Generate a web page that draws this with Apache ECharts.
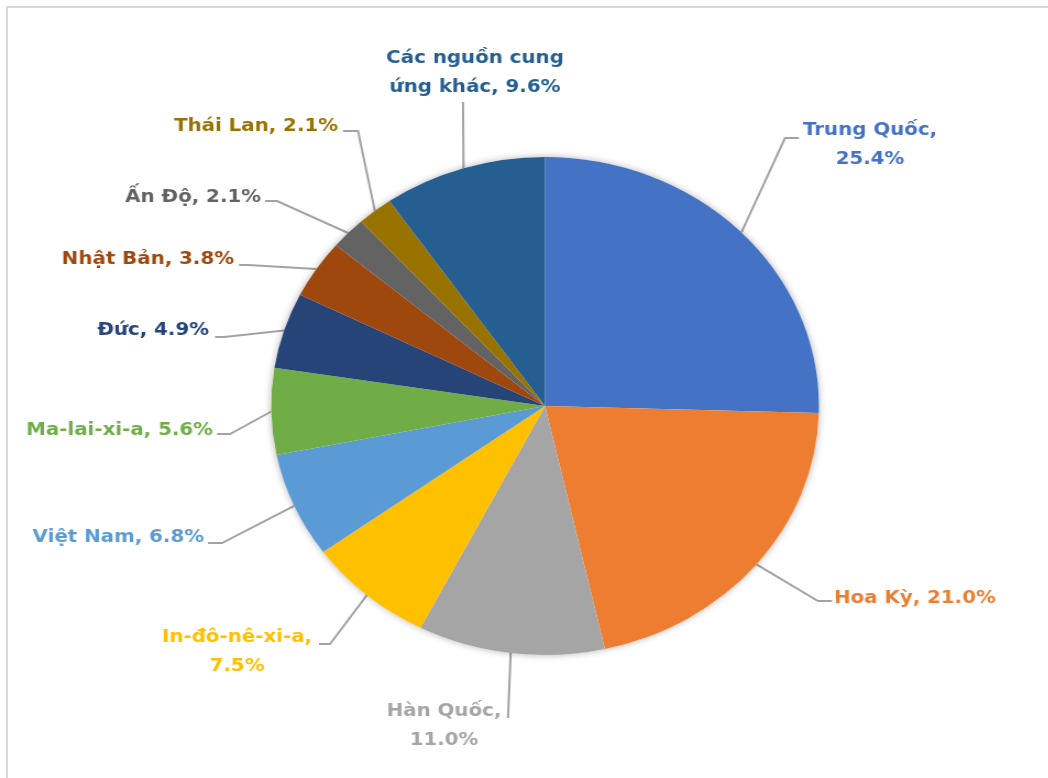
<!DOCTYPE html>
<html>
<head>
<meta charset="utf-8">
<script src="https://cdn.jsdelivr.net/npm/echarts@6/dist/echarts.min.js"></script>
<style>
  html, body { margin: 0; padding: 0; background: #fff; width: 1048px; height: 778px; overflow: hidden; }
  #frame { position: absolute; left: 6px; top: 6px; right: -4px; bottom: -4px;
           border-top: 2px solid #d9d9d9; border-left: 2px solid #d9d9d9; }
  /* the chart is laid out on a narrower canvas and widened to the page */
  #chart { position: absolute; left: 0; top: 0; width: 953px; height: 778px;
           transform: scaleX(1.1); transform-origin: 0 0; }
</style>
</head>
<body>
<div id="frame"></div>
<div id="chart"></div>
<script>
// Import sources, share of total (%)
const categories = ['Trung Quốc', 'Hoa Kỳ', 'Hàn Quốc', 'In-đô-nê-xi-a', 'Việt Nam',
                    'Ma-lai-xi-a', 'Đức', 'Nhật Bản', 'Ấn Độ', 'Thái Lan', 'Các nguồn cung ứng khác'];
const shares = [25.4, 21.0, 11.0, 7.5, 6.8, 5.6, 4.9, 3.8, 2.1, 2.1, 9.6];

// Slice colours (Office palette)
const colors = ['#4472C4', '#ED7D31', '#A5A5A5', '#FFC000', '#5B9BD5', '#70AD47',
                '#264478', '#9E480E', '#636363', '#997300', '#255E91'];

// Which space of each label becomes a line break (0 = single line)
const breakAtSpace = [2, 0, 2, 1, 0, 0, 0, 0, 0, 0, 3];

// Label placement on the page: [x, y, align]
const labelSpots = [
  [870, 145, 'center'], [834, 598, 'left'], [444, 726, 'center'], [237, 652, 'center'],
  [204, 537, 'right'], [213, 430, 'right'], [209, 330, 'right'], [234, 259, 'right'],
  [261, 197, 'right'], [338, 126, 'right'], [475, 73, 'center']
];
// Leader line bend and end on the page: [bendX, bendY, endX, endY]
const leaderBends = [
  [785, 138, 799, 138], [818, 601, 832, 601], [508, 718, 508, 718], [330, 644, 319, 644],
  [222, 543, 208, 543], [230, 434, 217, 434], [224, 337, 215, 337], [248, 265, 239, 265],
  [277, 201, 265, 201], [358, 131, 343, 131], [463, 102, 463, 102]
];

const STRETCH = 1.1;          // horizontal widening applied to #chart
const CENTER = [495.5, 406];
const RADIUS = 249;
const FONT = '"DejaVu Sans", "Noto Sans", sans-serif';

function labelText(i) {
  const full = categories[i] + ', ' + shares[i].toFixed(1) + '%';
  const n = breakAtSpace[i];
  if (!n) return full;
  let count = 0;
  return full.replace(/ /g, function (m) { count++; return count === n ? '\n' : m; });
}

const pieData = categories.map(function (name, i) {
  return {
    name: name,
    value: shares[i],
    itemStyle: { color: colors[i] },
    label: { color: colors[i] }
  };
});

const chart = echarts.init(document.getElementById('chart'), null, { renderer: 'canvas' });
chart.setOption({
  backgroundColor: 'transparent',
  animation: false,
  series: [
    {
      // soft drop shadow under the pie
      type: 'pie',
      silent: true,
      center: CENTER,
      radius: RADIUS,
      data: [{ value: 1, itemStyle: { color: '#ffffff' } }],
      label: { show: false },
      labelLine: { show: false },
      itemStyle: { shadowBlur: 7, shadowColor: 'rgba(0,0,0,0.3)' }
    },
    {
      type: 'pie',
      center: CENTER,
      radius: RADIUS,
      startAngle: 90,
      clockwise: true,
      avoidLabelOverlap: false,
      data: pieData,
      itemStyle: { borderWidth: 0 },
      label: {
        show: true,
        position: 'outside',
        fontFamily: FONT,
        fontWeight: 'bold',
        fontSize: 18,
        lineHeight: 29,
        formatter: function (p) { return labelText(p.dataIndex); }
      },
      labelLine: {
        show: true,
        length: 20,
        length2: 10,
        lineStyle: { color: '#a3a3a3', width: 2 }
      },
      labelLayout: function (p) {
        const i = p.dataIndex;
        const spot = labelSpots[i];
        const bend = leaderBends[i];
        const out = { x: spot[0] / STRETCH, y: spot[1], align: spot[2], verticalAlign: 'middle' };
        if (p.labelLinePoints && p.labelLinePoints.length) {
          out.labelLinePoints = [
            p.labelLinePoints[0],
            [bend[0] / STRETCH, bend[1]],
            [bend[2] / STRETCH, bend[3]]
          ];
        }
        return out;
      }
    }
  ]
});
</script>
</body>
</html>
